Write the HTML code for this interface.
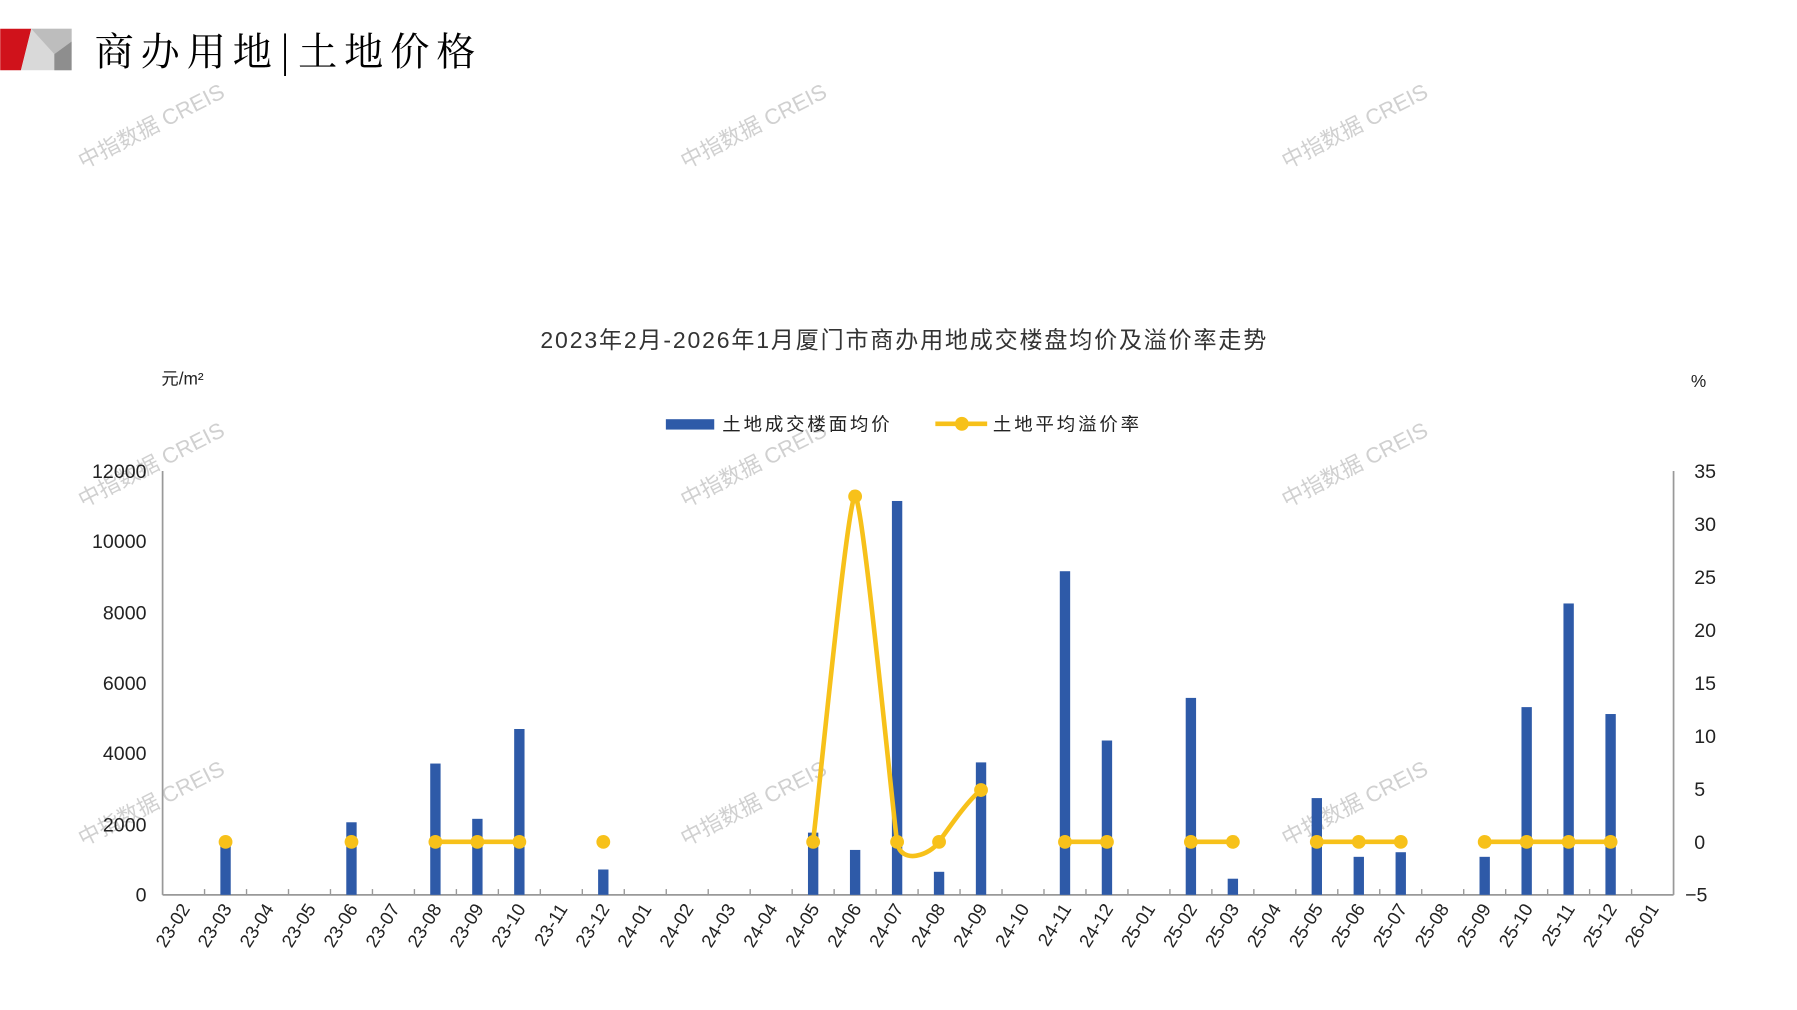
<!DOCTYPE html>
<html><head><meta charset="utf-8"><style>html,body{margin:0;padding:0;background:#fff}svg{display:block}</style></head><body>
<svg width="1797" height="1010" viewBox="0 0 1560 877" xmlns="http://www.w3.org/2000/svg" font-family="Liberation Sans, Noto Sans CJK SC, sans-serif">
<rect width="1560" height="877" fill="#fff"/>
<polygon points="0,25 27,25 18,61 0,61" fill="#d0121b"/>
<polygon points="27,25 62,25 62,61 18,61" fill="#d9d9d9"/>
<polygon points="27,25 62,25 62,36 47,47" fill="#bdbdbd"/>
<polygon points="62,36 62,61 47,61 47,47" fill="#8e8e8e"/>
<text x="82" y="57" font-family="Noto Serif CJK SC, serif" font-size="34" letter-spacing="6" fill="#000">商办用地|土地价格</text>
<g fill="#c8c8c8" font-size="19" opacity="0.85">
<text transform="translate(72,147) rotate(-27)">中指数据 CREIS</text>
<text transform="translate(595,147) rotate(-27)">中指数据 CREIS</text>
<text transform="translate(1117,147) rotate(-27)">中指数据 CREIS</text>
<text transform="translate(72,441) rotate(-27)">中指数据 CREIS</text>
<text transform="translate(595,441) rotate(-27)">中指数据 CREIS</text>
<text transform="translate(1117,441) rotate(-27)">中指数据 CREIS</text>
<text transform="translate(72,735) rotate(-27)">中指数据 CREIS</text>
<text transform="translate(595,735) rotate(-27)">中指数据 CREIS</text>
<text transform="translate(1117,735) rotate(-27)">中指数据 CREIS</text>
</g>
<text x="785" y="302" text-anchor="middle" font-size="20" letter-spacing="1.6" fill="#333">2023年2月-2026年1月厦门市商办用地成交楼盘均价及溢价率走势</text>
<text x="140" y="334" font-size="15" fill="#222">元/m²</text>
<text x="1468" y="336" font-size="15" fill="#222">%</text>
<rect x="578" y="364" width="42" height="9" fill="#2e5aa8"/>
<text x="627" y="374" font-size="16" letter-spacing="2.5" fill="#222">土地成交楼面均价</text>
<line x1="812" y1="368" x2="857" y2="368" stroke="#f7c11a" stroke-width="4"/>
<circle cx="835" cy="368" r="6" fill="#f7c11a"/>
<text x="862" y="374" font-size="16" letter-spacing="2.5" fill="#222">土地平均溢价率</text>
<g stroke="#999" stroke-width="1.5" fill="none">
<line x1="141" y1="409" x2="141" y2="777"/>
<line x1="1453" y1="409" x2="1453" y2="777"/>
<line x1="141" y1="777" x2="1453" y2="777"/>
</g>
<g font-size="17" fill="#222" text-anchor="end">
<text x="127" y="415">12000</text><text x="127" y="476">10000</text><text x="127" y="538">8000</text><text x="127" y="599">6000</text><text x="127" y="660">4000</text><text x="127" y="722">2000</text><text x="127" y="783">0</text>
</g>
<g font-size="17" fill="#222">
<text x="1471" y="415">35</text><text x="1471" y="461">30</text><text x="1471" y="507">25</text><text x="1471" y="553">20</text><text x="1471" y="599">15</text><text x="1471" y="645">10</text><text x="1471" y="691">5</text><text x="1471" y="737">0</text><text x="1463" y="783">−5</text>
</g>
<g id="ticks" stroke="#999" stroke-width="1.2"></g>
<g id="bars" fill="#2e5aa8"></g>
<g id="xl" font-size="16" fill="#222" text-anchor="end"></g>
<path d="M705.8,731 C711.9,681 736,431 742.3,431 C748.6,431 772.6,681 778.7,731 C782,752 808,742 815.1,731 C823,720 840,695 851.6,686" stroke="#f7c11a" stroke-width="4" fill="none"/>
<g id="ln" stroke="#f7c11a" stroke-width="4" fill="none"></g>
<g id="dots" fill="#f7c11a"></g>
<script>
var ns="http://www.w3.org/2000/svg";
function el(p,t,a,txt){var e=document.createElementNS(ns,t);for(var k in a)e.setAttribute(k,a[k]);if(txt)e.textContent=txt;document.getElementById(p).appendChild(e);}
var w=(1453-141)/36;function cx(i){return 141+w*(i+0.5);}
for(var i=1;i<36;i++)el("ticks","line",{x1:141+w*i,y1:772,x2:141+w*i,y2:777});
var bars={1:733,4:714,6:663,7:711,8:633,10:755,15:723,16:738,17:435,18:757,19:662,21:496,22:643,24:606,25:763,27:693,28:744,29:740,31:744,32:614,33:524,34:620};
for(var k in bars)el("bars","rect",{x:cx(+k)-4.5,y:bars[k],width:9,height:777-bars[k]});
var labs=[];for(var y=23;y<=26;y++)for(var m=1;m<=12;m++){if(y==23&&m<2)continue;if(y==26&&m>1)continue;labs.push(y+"-"+(m<10?"0":"")+m);}
labs.forEach(function(l,i){el("xl","text",{transform:"translate("+(cx(i)+6)+",789) rotate(-58)"},l);});
var segs=[[1],[4],[6,7,8],[10],[21,22],[24,25],[27,28,29],[31,32,33,34]];
segs.forEach(function(s){if(s.length>1)el("ln","line",{x1:cx(s[0]),y1:731,x2:cx(s[s.length-1]),y2:731});s.forEach(function(i){el("dots","circle",{cx:cx(i),cy:731,r:6});});});
[[15,731],[16,431],[17,731],[18,731],[19,686]].forEach(function(p){el("dots","circle",{cx:cx(p[0]),cy:p[1],r:6});});
</script>
</svg>
</body></html>
